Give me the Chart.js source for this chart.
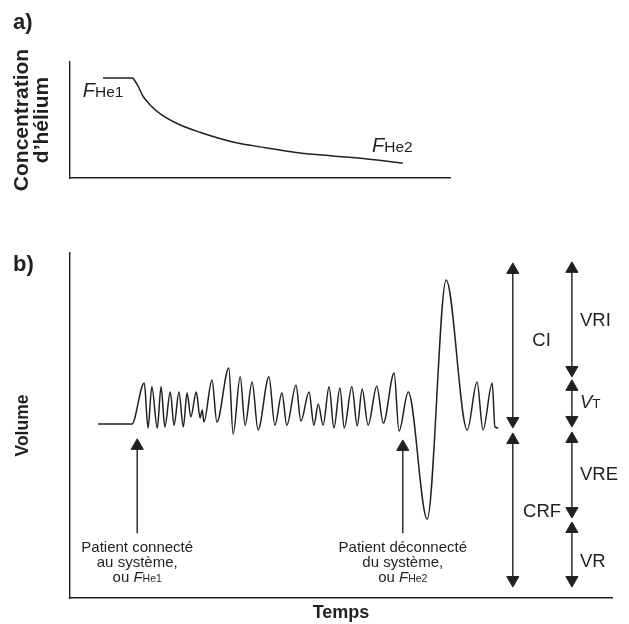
<!DOCTYPE html>
<html><head><meta charset="utf-8">
<script src="https://cdn.jsdelivr.net/npm/chart.js@4.4.1/dist/chart.umd.min.js"></script>
<style>
html,body{margin:0;padding:0;background:#fff;width:629px;height:624px;overflow:hidden;position:relative;}
canvas{position:absolute;left:0;}
#ca{top:0;} #cb{top:200px;}
.panel{position:absolute;left:13px;font:bold 22px/22px 'Liberation Sans',Arial,Helvetica,sans-serif;color:#231f20;}
</style></head><body>
<canvas id="ca" width="629" height="200" style="width:629px;height:200px"></canvas>
<canvas id="cb" width="629" height="424" style="width:629px;height:424px"></canvas>
<div class="panel" style="top:11px">a)</div>
<div class="panel" style="top:253px">b)</div>
<script>
const FAMILY = "'Liberation Sans', Arial, Helvetica, sans-serif";
const INK = '#231f20';

// ---------- Panel a: helium concentration vs time (arbitrary units 0-100) ----------
const heFlatTime = [8.7, 16.6];
const heFlatConc = [86.2, 86.2];
const heDecayTime = [16.6, 17.9, 19.2, 21.1, 23.7, 28.2, 34.2, 42.9, 51.8, 60.5, 69.2, 78.2, 87.6];
const heDecayConc = [86.2, 79.5, 70.7, 63.0, 55.5, 47.0, 39.4, 31.0, 25.9, 21.6, 19.0, 16.4, 12.9];
const aTitle = ['Concentration', "d\u2019hélium"];
const aLabelTime = [3.4, 79.5];
const aLabelConc = [69.8, 22.4];
const aLabelSub = ['He1', 'He2'];

// ---------- Panel b: spirogram volume vs time (arbitrary units 0-100) ----------
const waveTime = [5.2, 11.4, 13.7, 14.4, 15.1, 16.1, 16.8, 17.5, 18.5, 19.2, 20.1, 20.9, 21.6, 22.3, 23.3, 24.0, 24.4, 24.7,
  26.2, 27.1, 29.3, 30.1, 31.4, 32.3, 33.6, 34.7, 36.7, 37.8, 39.1, 40.0, 41.7, 42.6, 44.1, 45.0, 45.8, 46.7,
  47.8, 48.7, 49.8, 50.6, 52.0, 53.0, 53.9, 55.0, 56.6, 57.8, 59.8, 60.7, 62.4, 65.9, 69.4, 73.3, 75.1, 76.2,
  77.9, 78.4, 79.0];
const waveVolume = [50.4, 50.4, 62.3, 49.3, 61.2, 49.3, 61.2, 49.6, 59.7, 50.1, 59.7, 49.6, 59.4, 52.5, 59.7, 52.2, 54.5, 51.0,
  63.2, 51.0, 66.7, 47.5, 64.1, 50.1, 62.6, 48.7, 64.1, 50.1, 59.4, 50.1, 61.7, 51.3, 59.7, 50.1, 56.2, 50.1,
  61.2, 49.3, 60.9, 49.3, 61.2, 49.9, 60.6, 50.1, 61.4, 50.7, 65.2, 48.4, 59.7, 22.9, 92.2, 48.7, 62.6, 48.7,
  62.3, 49.6, 49.3];

// volume brackets (double arrows) on the right
const bracketNames = ['CI', 'CRF', 'VRI', 'VT', 'VRE', 'VR'];
const bracketTime = [81.7, 81.7, 92.6, 92.6, 92.6, 92.6];
const bracketTop = [95.1, 45.8, 95.4, 61.2, 46.1, 20.0];
const bracketBottom = [51.3, 5.2, 66.1, 51.6, 25.2, 5.2];
const bracketLabelTime = [87.0, 87.1, 94.1, 94.1, 94.1, 94.1];
const bracketLabelVol = [72.9, 23.5, 78.8, 55.1, 34.2, 9.0];

// event markers (connect / disconnect)
const markerTime = [12.4, 61.4];
const markerTop = [44.1, 43.8];
const markerBottom = [18.8, 18.8];
const markerLine1 = ['Patient connecté', 'Patient déconnecté'];
const markerLine2 = ['au système,', 'du système,'];
const markerSub = ['He1', 'He2'];
const markerLineVol = [13.3, 9.0, 4.7];

// ---------- helpers ----------
function pts(xs, ys) { return xs.map((x, i) => ({x: x, y: ys[i]})); }
function fontStr(r) { return (r.style || 'normal') + ' normal ' + r.size + 'px ' + FAMILY; }
function drawRuns(ctx, runs, x, y, align) {
  ctx.save();
  ctx.fillStyle = INK;
  ctx.textBaseline = 'alphabetic';
  ctx.textAlign = 'left';
  const widths = runs.map(r => { ctx.font = fontStr(r); return ctx.measureText(r.text).width; });
  const total = widths.reduce((a, b) => a + b, 0);
  let cx = align === 'center' ? x - total / 2 : (align === 'right' ? x - total : x);
  runs.forEach((r, i) => { ctx.font = fontStr(r); ctx.fillText(r.text, cx, y); cx += widths[i]; });
  ctx.restore();
}
const textPlugin = {
  id: 'textLabels',
  afterDraw(chart, args, opts) {
    const xs = chart.scales.x, ys = chart.scales.y;
    (opts.items || []).forEach(it => {
      drawRuns(chart.ctx, it.runs, xs.getPixelForValue(it.t), ys.getPixelForValue(it.v), it.align);
    });
  }
};

function axes(xTitle, yTitle, yFont, yPad, xPad) {
  const common = {
    type: 'linear', min: 0, max: 100,
    grid: {display: false, drawTicks: false},
    ticks: {display: false},
    border: {display: true, color: INK, width: 1.4}
  };
  return {
    x: Object.assign({}, common, {
      position: 'bottom',
      title: xTitle ? {display: true, text: xTitle, color: INK,
        font: {family: FAMILY, size: 18, weight: 'bold', lineHeight: 1.2}, padding: xPad} : {display: false}
    }),
    y: Object.assign({}, common, {
      position: 'left',
      title: {display: true, text: yTitle, color: INK, font: yFont, padding: yPad}
    })
  };
}

// ---------- Chart a ----------
const aItems = aLabelTime.map((t, i) => ({
  t: t, v: aLabelConc[i], align: 'left',
  runs: [{text: 'F', size: 20, style: 'italic'}, {text: aLabelSub[i], size: 15.5}]
}));
new Chart(document.getElementById('ca'), {
  type: 'scatter',
  data: {datasets: [
    {data: pts(heFlatTime, heFlatConc), showLine: true, borderColor: INK, borderWidth: 1.5, pointRadius: 0},
    {data: pts(heDecayTime, heDecayConc), showLine: true, borderColor: INK, borderWidth: 1.5, pointRadius: 0,
     cubicInterpolationMode: 'monotone'}
  ]},
  options: {
    responsive: false, animation: false, devicePixelRatio: 1,
    layout: {padding: {top: 62, right: 179, bottom: 22, left: 0}},
    scales: axes(null, aTitle, {family: FAMILY, size: 21, weight: 'bold', lineHeight: 0.95}, {top: 12, bottom: 18}),
    plugins: {legend: {display: false}, tooltip: {enabled: false}, textLabels: {items: aItems}}
  },
  plugins: [textPlugin]
});

// ---------- Chart b ----------
const bDatasets = [
  {data: pts(waveTime, waveVolume), showLine: true, borderColor: INK, borderWidth: 1.5, pointRadius: 0,
   cubicInterpolationMode: 'monotone'}
];
bracketTime.forEach((t, i) => {
  bDatasets.push({
    data: [{x: t, y: bracketTop[i]}, {x: t, y: bracketBottom[i]}], showLine: true,
    borderColor: INK, borderWidth: 1.4, pointStyle: 'triangle', pointRadius: 7, pointRotation: [0, 180],
    pointBackgroundColor: INK, pointBorderColor: INK, pointBorderWidth: 1
  });
});
markerTime.forEach((t, i) => {
  bDatasets.push({
    data: [{x: t, y: markerTop[i]}, {x: t, y: markerBottom[i]}], showLine: true,
    borderColor: INK, borderWidth: 1.4, pointStyle: 'triangle', pointRadius: [7, 0], pointRotation: 0,
    pointBackgroundColor: INK, pointBorderColor: INK, pointBorderWidth: 1
  });
});
const bItems = [];
bracketNames.forEach((n, i) => {
  const runs = n === 'VT'
    ? [{text: 'V', size: 18.5, style: 'italic'}, {text: 'T', size: 13.5}]
    : [{text: n, size: 18.5}];
  bItems.push({t: bracketLabelTime[i], v: bracketLabelVol[i], align: (n === 'CI' || n === 'CRF') ? 'center' : 'left', runs: runs});
});
markerTime.forEach((t, i) => {
  bItems.push({t: t, v: markerLineVol[0], align: 'center', runs: [{text: markerLine1[i], size: 15}]});
  bItems.push({t: t, v: markerLineVol[1], align: 'center', runs: [{text: markerLine2[i], size: 15}]});
  bItems.push({t: t, v: markerLineVol[2], align: 'center',
    runs: [{text: 'ou ', size: 15}, {text: 'F', size: 15, style: 'italic'}, {text: markerSub[i], size: 10.5}]});
});
new Chart(document.getElementById('cb'), {
  type: 'scatter',
  data: {datasets: bDatasets},
  options: {
    responsive: false, animation: false, devicePixelRatio: 1,
    layout: {padding: {top: 53, right: 17, bottom: 0.4, left: 0}},
    scales: axes('Temps', 'Volume', {family: FAMILY, size: 17.5, weight: 'bold', lineHeight: 1.2},
      {top: 12.5, bottom: 36.5}, {top: 4, bottom: 0}),
    plugins: {legend: {display: false}, tooltip: {enabled: false}, textLabels: {items: bItems}}
  },
  plugins: [textPlugin]
});
</script>
</body></html>
